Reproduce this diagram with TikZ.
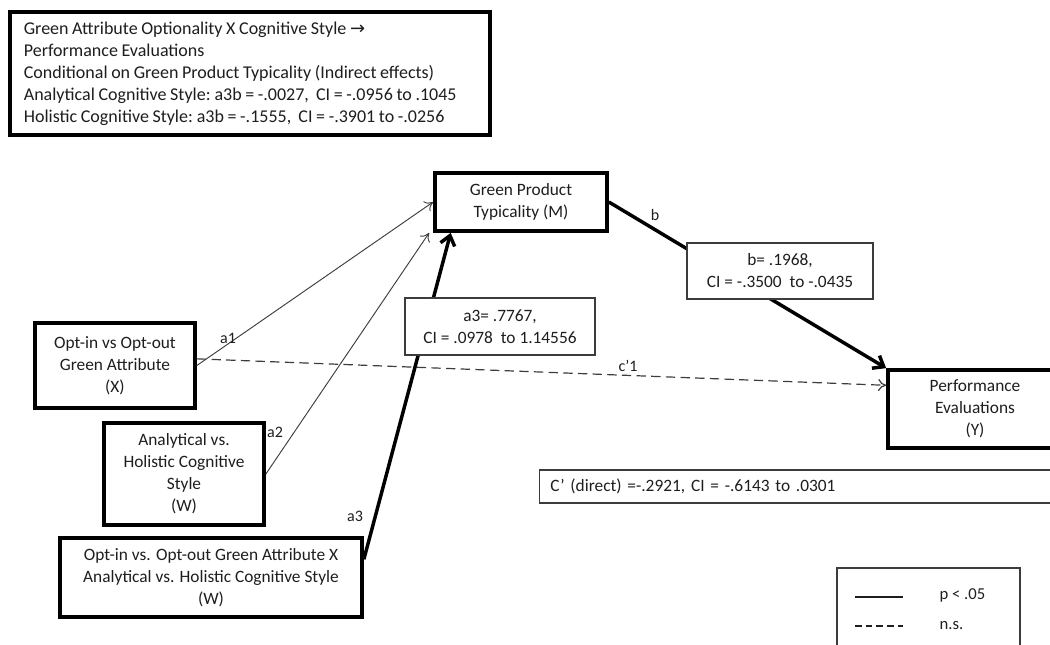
\documentclass[tikz,border=0pt]{standalone}
\usepackage{fontspec}
\setmainfont{Carlito}
\newfontfamily\symbfont{DejaVu Sans}
\usetikzlibrary{positioning,arrows.meta,calc}
\definecolor{InkGray}{RGB}{30,30,30}
\definecolor{EdgeGray}{RGB}{60,60,60}
\newcommand\tightspaces{\spaceskip=0.2em plus 0.05em\relax\xspaceskip=0.22em\relax}

\tikzset{
  boxtext/.style={font=\fontsize{13}{16.5}\selectfont, text=InkGray, align=center, inner sep=0pt},
  heavybox/.style={boxtext, draw=black, line width=2.8pt, fill=white},
  lightbox/.style={boxtext, draw=EdgeGray, line width=1.1pt, fill=white},
  pathlabel/.style={font=\fontsize{12}{14}\selectfont, text=InkGray, inner sep=1pt},
  weakpath/.style={draw=EdgeGray, line width=0.7pt, -{To[length=6pt,width=9pt]}},
  strongpath/.style={draw=black, line width=2.6pt, -{Straight Barb[length=7pt,width=11pt]}},
  nspath/.style={draw=EdgeGray, line width=0.9pt, dash pattern=on 7pt off 4pt, -{To[length=6pt,width=9pt]}}
}

\begin{document}
\begin{tikzpicture}[x=0.75pt, y=-0.75pt]
  \useasboundingbox (0,0) rectangle (1050,644);

  % summary of indirect effects
  \node[heavybox, anchor=north west, align=left, text width=339pt, inner xsep=10.5pt, minimum height=92.25pt,
        font=\fontsize{13.5}{16.5}\selectfont] (summary) at (8,10)
    {\tightspaces Green Attribute Optionality X Cognitive Style {\symbfont →}\\
     Performance Evaluations\\
     Conditional on Green Product Typicality (Indirect effects)\\
     Analytical Cognitive Style: a3b = -.0027, \ CI = -.0956 to .1045\\
     Holistic Cognitive Style: a3b = -.1555, \ CI = -.3901 to -.0256};

  % variables
  \node[heavybox, minimum width=129pt, minimum height=43.5pt] (med) at (521,202) {Green Product\\Typicality (M)};
  \node[heavybox, minimum width=120pt, minimum height=63.75pt] (xvar) at (115,365.5) {Opt-in vs Opt-out\\Green Attribute\\(X)};
  \node[heavybox, minimum width=120pt, minimum height=76.5pt] (wvar) at (184,474) {Analytical vs.\\Holistic Cognitive\\Style\\(W)};
  \node[heavybox, minimum width=226.5pt, minimum height=59.25pt] (xwvar) at (211,577.5)
    {Opt-in vs. Opt-out Green Attribute X\\Analytical vs. Holistic Cognitive Style\\(W)};
  \node[heavybox, minimum width=130.5pt, minimum height=58.5pt] (yvar) at (975,409) {Performance\\Evaluations\\(Y)};

  % paths
  \draw[weakpath] (xvar.east) -- (med.west);
  \draw[weakpath] (wvar.east) -- ([xshift=-3pt]med.south west);
  \draw[nspath] ([yshift=5pt]xvar.east) -- ($(yvar.north west)!0.21!(yvar.south west)$);
  \draw[strongpath] ($(xwvar.north east)!0.28!(xwvar.south east)$) -- ($(med.south west)!0.1!(med.south east)$);
  \draw[strongpath] (med.east) -- (yvar.north west);

  % coefficient boxes
  \node[lightbox, minimum width=142.5pt, minimum height=42.75pt] (a3box) at (500,326.5) {a3= .7767,\\CI = .0978\ \ to 1.14556};
  \node[lightbox, minimum width=139.5pt, minimum height=42pt] (bbox) at (780,271) {b= .1968,\\CI = -.3500\ \ to -.0435};
  \node[lightbox, anchor=west, align=left, text width=500pt, inner xsep=8pt, minimum height=24.75pt] (direct) at (539,486.5)
    {C’ (direct) =-.2921, CI = -.6143 to .0301};

  % path labels
  \node[pathlabel] (la1) at (228,338) {a1};
  \node[pathlabel] (la2) at (275,432) {a2};
  \node[pathlabel] (la3) at (355,516) {a3};
  \node[pathlabel] (lb) at (655,215) {b};
  \node[pathlabel] (lc) at (628,366) {c’1};

  % legend
  \draw[EdgeGray, line width=1.1pt] (837,660) rectangle (1020,568);
  \coordinate (sigA) at (855,597);
  \coordinate (sigB) at (903,597);
  \coordinate (nsA) at (855,626);
  \coordinate (nsB) at (903,626);
  \draw[InkGray, line width=0.9pt] (sigA) -- (sigB);
  \draw[InkGray, line width=0.9pt, dash pattern=on 5pt off 3pt] (nsA) -- (nsB);
  \node[pathlabel, anchor=west, font=\fontsize{12.5}{14}\selectfont] (sig) at (938,595) {p < .05};
  \node[pathlabel, anchor=west, font=\fontsize{12.5}{14}\selectfont] (ns) at (938,626) {n.s.};
\end{tikzpicture}
\end{document}
